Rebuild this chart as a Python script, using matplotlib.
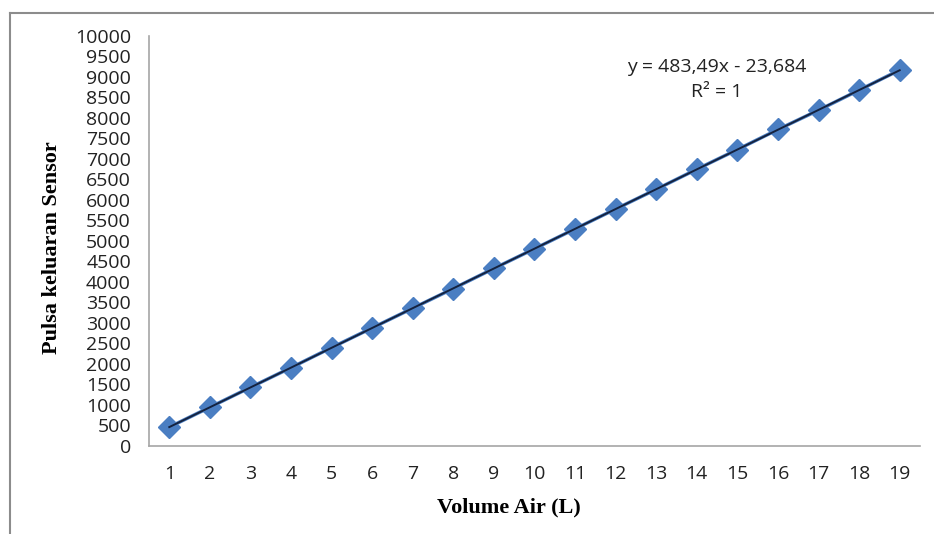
import numpy as np
import matplotlib.pyplot as plt
from matplotlib.lines import Line2D

# Volume air (L) vs sensor pulse output
volume = [1, 2, 3, 4, 5, 6, 7, 8, 9, 10, 11, 12, 13, 14, 15, 16, 17, 18, 19]
pulsa = [460, 945, 1430, 1910, 2400, 2880, 3360, 3840, 4330, 4810,
         5295, 5780, 6260, 6750, 7230, 7720, 8190, 8680, 9170]
yticks = list(range(0, 10001, 500))

tick_font = 'Open Sans'
label_font = 'Liberation Serif'

fig = plt.figure(figsize=(9.34, 5.34), dpi=100)
ax = fig.add_axes([0.1595, 0.1648, 0.8255, 0.7678])

ax.plot(volume, pulsa, color='#4A7EC2', linewidth=2.5, marker='D',
        markersize=11, markerfacecolor='#4A7EC2', markeredgecolor='#4A7EC2',
        zorder=3)

# linear trendline
coef = np.polyfit(volume, pulsa, 1)
xt = np.array([volume[0], volume[-1]])
ax.plot(xt, np.polyval(coef, xt), color='#14223F', linewidth=1.4, zorder=4)

ax.set_xlim(0.5, 19.5)
ax.set_ylim(0, 10000)
ax.set_xticks(volume)
ax.set_yticks(yticks)
ax.tick_params(length=0, labelsize=14, colors='#222222')
ax.tick_params(axis='x', pad=14)
ax.tick_params(axis='y', pad=13)
for lab in ax.get_xticklabels() + ax.get_yticklabels():
    lab.set_fontfamily(tick_font)

for s in ['top', 'right']:
    ax.spines[s].set_visible(False)
for s in ['left', 'bottom']:
    ax.spines[s].set_color('#A6A6A6')
    ax.spines[s].set_linewidth(1.2)

ax.set_xlabel('Volume Air (L)', fontfamily=label_font, fontweight='bold',
              fontsize=16)
ax.set_ylabel('Pulsa keluaran Sensor', fontfamily=label_font,
              fontweight='bold', fontsize=16)
ax.xaxis.set_label_coords(0.467, -0.125)
ax.yaxis.set_label_coords(-0.113, 0.485)

ax.text(14.5, 9244, 'y = 483,49x - 23,684', fontfamily=tick_font,
        fontsize=14, ha='center', va='center', color='#222222')
ax.text(14.5, 8634, 'R² = 1', fontfamily=tick_font, fontsize=14,
        ha='center', va='center', color='#222222')

# outer frame (left and top edges)
fig.add_artist(Line2D([10 / 934, 10 / 934], [0, 1 - 13 / 534],
                      transform=fig.transFigure, color='#8C8C8C', lw=1.5))
fig.add_artist(Line2D([10 / 934, 1], [1 - 13 / 534, 1 - 13 / 534],
                      transform=fig.transFigure, color='#8C8C8C', lw=1.5))

fig.savefig('out.png', dpi=100)
